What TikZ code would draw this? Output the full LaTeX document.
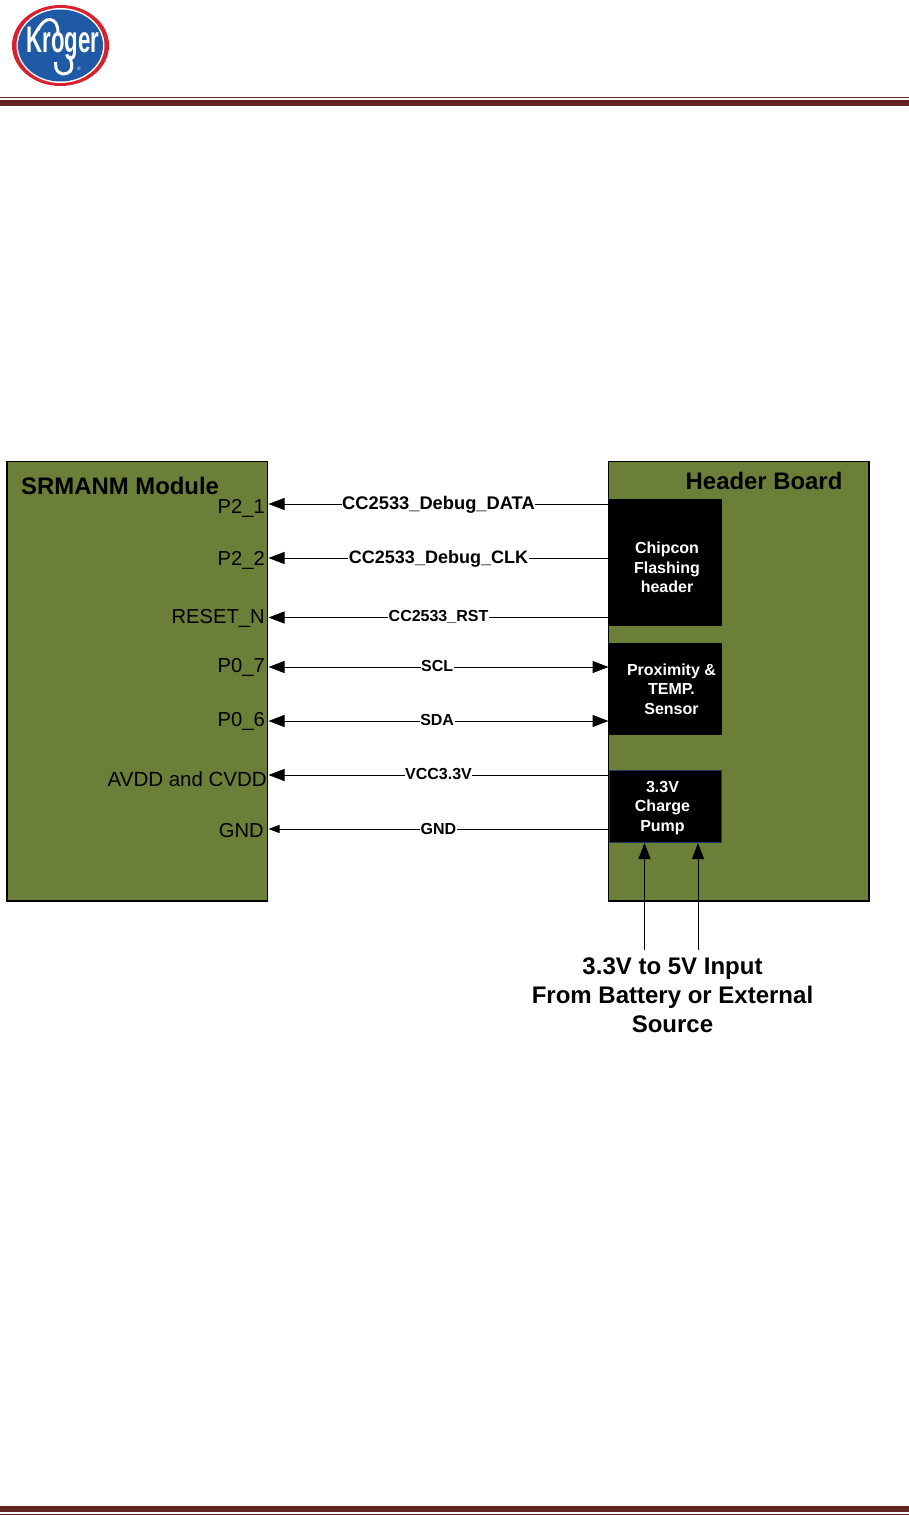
\documentclass[tikz,border=0pt]{standalone}
\usepackage{fontspec}
\setmainfont{Liberation Sans}
\usetikzlibrary{arrows.meta}
\definecolor{board}{HTML}{6B7F39}
\definecolor{rule}{HTML}{622423}
\definecolor{krored}{HTML}{D8202F}
\definecolor{kroblue}{HTML}{1F5AA6}
\definecolor{pumpedge}{HTML}{1F3864}
\tikzset{
  x=1pt,y=-1pt,
  boardbox/.style={draw=black,line width=1.3pt,fill=board,inner sep=0pt},
  blockbox/.style={fill=black,inner sep=0pt},
  blocktext/.style={text=white,font=\fontsize{16}{19.5}\selectfont\bfseries,align=center,inner sep=0pt},
  pinlabel/.style={font=\fontsize{20.2}{24}\selectfont,anchor=east,inner sep=0pt,text=black},
  boardtitle/.style={font=\fontsize{23.9}{28}\selectfont\bfseries,anchor=west,inner sep=0pt},
  wirelabel/.style={fill=white,inner sep=0.5pt,yshift=1pt,font=\fontsize{16}{19}\selectfont\bfseries},
  wirelabelbig/.style={fill=white,inner sep=0.5pt,yshift=-0.8pt,font=\fontsize{18}{22}\selectfont\bfseries},
  wire/.style={line width=1pt,draw=black},
  oneway/.style={wire,-{Triangle[length=16pt,width=12pt]}},
  twoway/.style={wire,{Triangle[length=16pt,width=12pt]}-{Triangle[length=16pt,width=12pt]}},
  smallway/.style={wire,-{Triangle[length=11pt,width=8pt]}},
}
\begin{document}
\begin{tikzpicture}
\useasboundingbox (0,0) rectangle (909,1515);
\fill[white] (0,0) rectangle (909,1515);
% header and footer rules
\fill[rule] (0,97.2) rectangle (909,98.4);
\fill[rule] (0,100) rectangle (909,106);
\fill[rule] (0,1506) rectangle (909,1512);
\fill[rule] (0,1513.6) rectangle (909,1515);
% logo
\fill[krored] (60.5,45.5) ellipse [x radius=48.5,y radius=40.5];
\fill[white] (60.5,45.5) ellipse [x radius=44,y radius=37.5];
\fill[kroblue] (60.5,45.5) ellipse [x radius=42.5,y radius=36];
\node[text=white,inner sep=0pt,font=\bfseries\fontsize{37}{37}\selectfont,xscale=.6] (logo) at (63,44) {Kroger};
\draw[white,line width=3pt] (38,30) .. controls (41,23) and (46,19) .. (50,19.5) .. controls (55,20) and (58,24) .. (58,33);
\draw[white,line width=3pt] (69,56) .. controls (72,62) and (73,68) .. (70,71.5) .. controls (66,75.5) and (58,75) .. (56,68) -- (55.5,62);
\node[text=white,inner sep=0pt,font=\fontsize{5}{5}\selectfont] (reg) at (79,68.5) {®};
% boards
\path[boardbox,draw] (7,461.5) rectangle (267.5,901);
\path[boardbox,draw] (608.5,461.5) rectangle (869,901);
\node[boardtitle] (srmtitle) at (21,486) {SRMANM Module};
\node[boardtitle] (hdrtitle) at (685.5,481) {Header Board};
% blocks
\node[blockbox,minimum width=113.5pt,minimum height=127pt] (chip) at (665.25,562.5) {};
\node[blockbox,minimum width=113.5pt,minimum height=92pt] (prox) at (665.25,689) {};
\node[blockbox,draw=pumpedge,line width=.8pt,minimum width=112.5pt,minimum height=71.5pt] (pump) at (665.25,806.5) {};
\node[blocktext] (chiptext) at (667,567.5) {Chipcon\\Flashing\\header};
\node[blocktext] (proxtext) at (671.5,689) {Proximity \&\\TEMP.\\Sensor};
\node[blocktext] (pumptext) at (662.5,808) {3.3V\\Charge\\Pump};
% pin labels
\node[pinlabel] (p21) at (265,508) {P2\_1};
\node[pinlabel] (p22) at (265,560.5) {P2\_2};
\node[pinlabel] (rst) at (265,618) {RESET\_N};
\node[pinlabel] (p07) at (265,667) {P0\_7};
\node[pinlabel] (p06) at (265,721.5) {P0\_6};
\node[pinlabel,font=\fontsize{20.5}{24}\selectfont] (avdd) at (267,779) {AVDD and CVDD};
\node[pinlabel] (gnd) at (264,830.5) {GND};
% connector end points
\coordinate (a1) at (268.5,504); \coordinate (b1) at (608.5,504);
\coordinate (a2) at (268.5,558); \coordinate (b2) at (608.5,558);
\coordinate (a3) at (268.5,617.5); \coordinate (b3) at (608.5,617.5);
\coordinate (a4) at (268.5,667); \coordinate (b4) at (608.5,667);
\coordinate (a5) at (268.5,721); \coordinate (b5) at (608.5,721);
\coordinate (a6) at (268.5,775); \coordinate (b6) at (608.5,775);
\coordinate (a7) at (268.5,829); \coordinate (b7) at (608.5,829);
\coordinate (v1) at (644.5,950); \coordinate (u1) at (644.5,843);
\coordinate (v2) at (698,950); \coordinate (u2) at (698,843);
% connectors
\draw[oneway] (b1) -- node[wirelabelbig,pos=.5,font=\fontsize{18.3}{22}\selectfont\bfseries] {CC2533\_Debug\_DATA} (a1);
\draw[oneway] (b2) -- node[wirelabelbig,pos=.5] {CC2533\_Debug\_CLK} (a2);
\draw[oneway] (b3) -- node[wirelabel,pos=.5] {CC2533\_RST} (a3);
\draw[twoway] (a4) -- node[wirelabel,pos=.496] {SCL} (b4);
\draw[twoway] (a5) -- node[wirelabel,pos=.496] {SDA} (b5);
\draw[oneway] (b6) -- node[wirelabel,pos=.5] {VCC3.3V} (a6);
\draw[smallway] (b7) -- node[wirelabel,pos=.5,yshift=-1pt] {GND} (a7);
\draw[oneway] (v1) -- (u1);
\draw[oneway] (v2) -- (u2);
% input label
\node[align=center,inner sep=0pt,font=\fontsize{24}{29}\selectfont\bfseries] (input) at (672.5,995) {3.3V to 5V Input\\From Battery or External\\Source};
\end{tikzpicture}
\end{document}
